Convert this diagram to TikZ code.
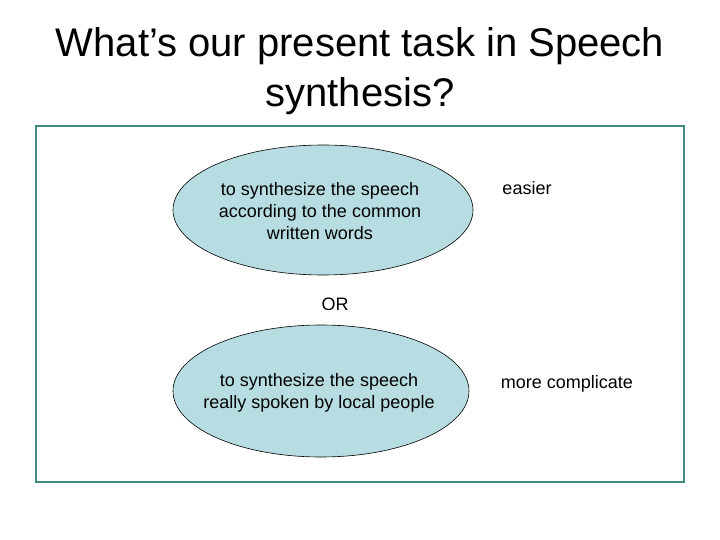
\documentclass[tikz,border=0pt]{standalone}
\usepackage{fontspec}
\setmainfont{Liberation Sans}
\usetikzlibrary{shapes.geometric}
\definecolor{frameteal}{RGB}{64,140,132}
\definecolor{ellfill}{RGB}{183,221,226}
\begin{document}
\begin{tikzpicture}[x=1pt,y=-1pt,
  ell/.style={draw=black,line width=0.6pt,fill=ellfill,ellipse,inner sep=0pt},
  body/.style={font=\fontsize{18}{21.6}\selectfont,align=center,inner sep=0pt},
  ttl/.style={font=\fontsize{40}{50}\selectfont,align=center,inner sep=0pt}]
\useasboundingbox (0,0) rectangle (720,540);
\fill[white] (0,0) rectangle (720,540);
\node[ttl] (title) at (360,71) {What’s our present task in Speech\\synthesis?};
\draw[frameteal,line width=1.2pt] (36,126) rectangle (684,482);
\draw[ell] (323,210) ellipse [x radius=150,y radius=65];
\node[body] (e1) at (320,211) {to synthesize the speech\\according to the common\\written words};
\node[body] (easier) at (527,188) {easier};
\node[body] (or) at (335,304) {OR};
\draw[ell] (321,391) ellipse [x radius=148,y radius=66];
\node[body] (e2) at (319,393) {to synthesize the speech\\really spoken by local people};
\node[body] (mc) at (567,384) {more complicate};
\end{tikzpicture}
\end{document}
